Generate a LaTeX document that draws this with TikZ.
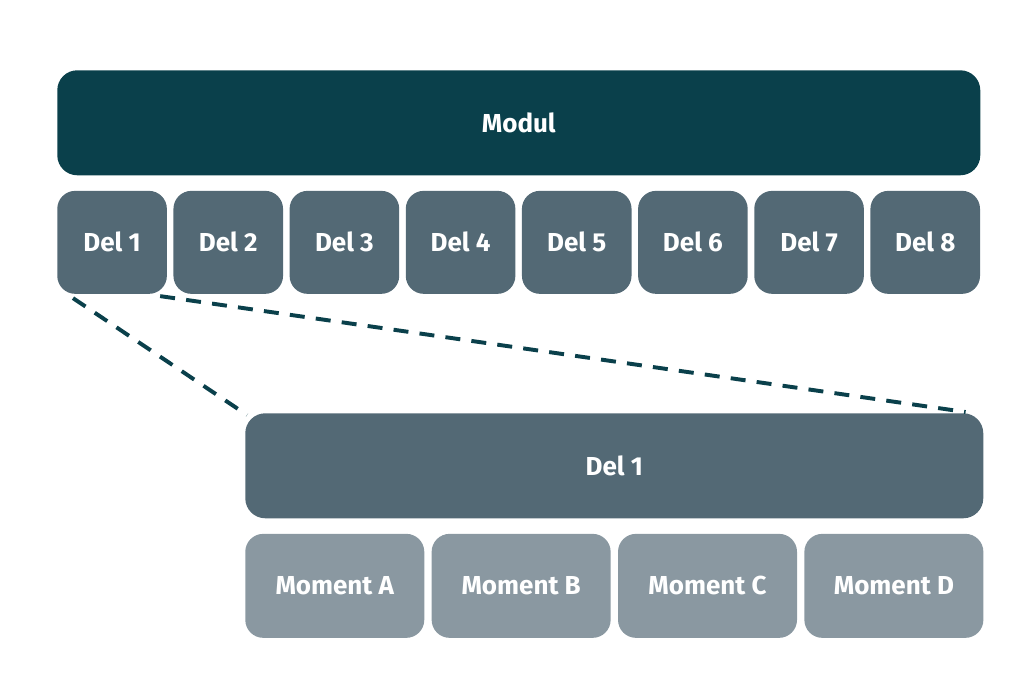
\documentclass[tikz,border=0pt]{standalone}
\usepackage{fontspec}
\setsansfont{Fira Sans}
\usepackage{xcolor}
\definecolor{TealDark}{HTML}{0A404B}
\definecolor{SlateMid}{HTML}{536975}
\definecolor{SlateLight}{HTML}{8A98A1}
\usepackage{tikz}
\usetikzlibrary{positioning, calc}

\begin{document}
\begin{tikzpicture}[
  node distance=0.15cm,
  box/.style={rectangle, rounded corners=0.45cm, text=white,
              font=\sffamily\bfseries\fontsize{18.5}{21}\selectfont},
  topbox/.style={box, rounded corners=0.5cm, fill=TealDark,
                 minimum width=23.075cm, minimum height=2.625cm},
  delbox/.style={box, fill=SlateMid,
                 minimum width=2.74cm, minimum height=2.575cm},
  bigbox/.style={box, rounded corners=0.5cm, fill=SlateMid,
                 minimum width=18.45cm, minimum height=2.625cm},
  momentbox/.style={box, fill=SlateLight,
                    minimum width=4.475cm, minimum height=2.6cm},
  zoomline/.style={TealDark, line width=2.8pt, dash pattern=on 0.375cm off 0.28cm}
]
  \useasboundingbox (0,0) rectangle (25.575,-17.375);

  \node[topbox, anchor=north west] (modul) at (1.425,-1.75) {Modul};
  \node[delbox, below right=0.375cm and 0cm of modul.south west] (d1) {Del 1};
  \foreach \i [remember=\i as \j (initially 1)] in {2,...,8}
    \node[delbox, right=of d\j] (d\i) {Del \i};

  \node[bigbox, anchor=north west] (del) at (6.125,-10.325) {Del 1};
  \node[momentbox, below right=0.375cm and 0cm of del.south west] (ma) {Moment A};
  \node[momentbox, right=0.17cm of ma] (mb) {Moment B};
  \node[momentbox, right=0.17cm of mb] (mc) {Moment C};
  \node[momentbox, right=0.17cm of mc] (md) {Moment D};

  \draw[zoomline] ($(d1.south west)+(0.4,-0.1)$) -- ($(del.north west)+(0.05,-0.05)$);
  \draw[zoomline] ($(d1.south east)+(-0.175,-0.05)$) -- ($(del.north east)+(-0.45,0.025)$);
\end{tikzpicture}
\end{document}
